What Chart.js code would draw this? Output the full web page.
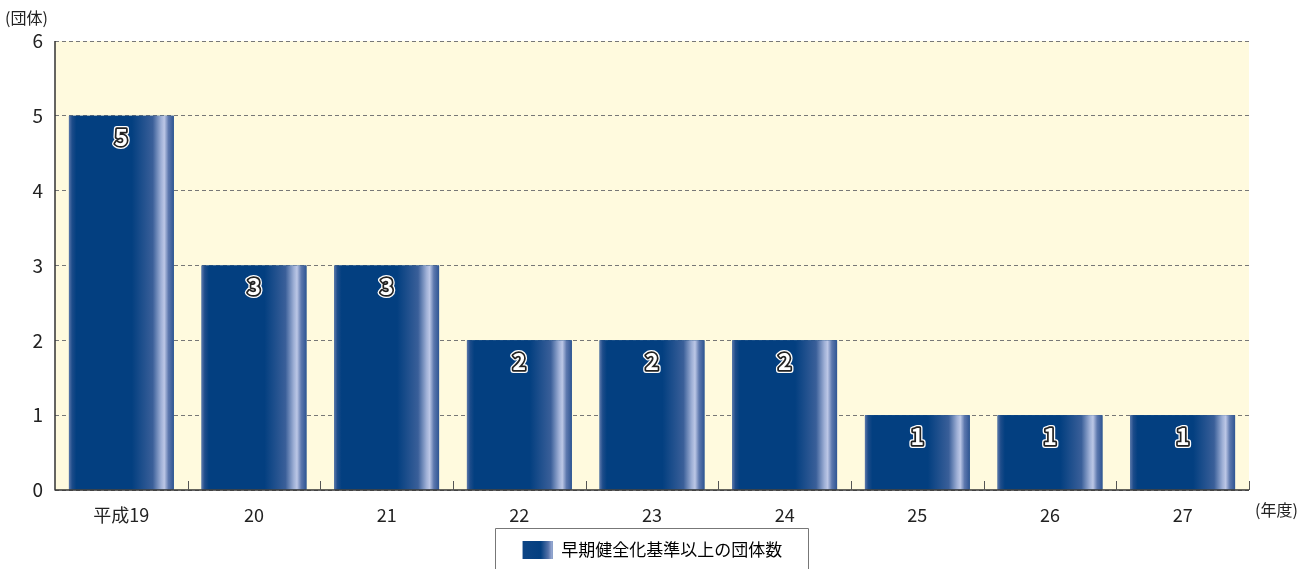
<!DOCTYPE html>
<html>
<head>
<meta charset="utf-8">
<script src="https://cdn.jsdelivr.net/npm/chart.js@4/dist/chart.umd.min.js"></script>
<style>
  body { margin: 0; background: #fff; }
  #wrap { position: relative; width: 1315px; height: 569px; }
</style>
</head>
<body>
<div id="wrap"><canvas id="chart"></canvas></div>
<script>
const years = ['平成19', '20', '21', '22', '23', '24', '25', '26', '27'];
const counts = [5, 3, 3, 2, 2, 2, 1, 1, 1];
const seriesName = '早期健全化基準以上の団体数';
const yTicks = [0, 1, 2, 3, 4, 5, 6];

const FONT = '"Noto Sans CJK JP", "Noto Sans", sans-serif';

function barGradient(ctx, x0, x1) {
    const g = ctx.createLinearGradient(x0, 0, x1, 0);
    g.addColorStop(0, '#5a76aa');
    g.addColorStop(0.03, '#1d4c8a');
    g.addColorStop(0.07, '#033f80');
    g.addColorStop(0.6, '#033f80');
    g.addColorStop(0.8, '#3a5f99');
    g.addColorStop(0.88, '#9fb0d6');
    g.addColorStop(0.91, '#bcc7e6');
    g.addColorStop(0.95, '#5d78ae');
    g.addColorStop(1, '#2f5593');
    return g;
}

function swatchGradient(ctx, x0, x1) {
    const g = ctx.createLinearGradient(x0, 0, x1, 0);
    g.addColorStop(0, '#0d4484');
    g.addColorStop(0.6, '#033f80');
    g.addColorStop(0.85, '#5572a8');
    g.addColorStop(1, '#a8b6dc');
    return g;
}

const decor = {
    id: 'decor',
    afterLayout(chart) {
        // centre the legend under the whole canvas, like the original
        const lg = chart.legend;
        lg.left += 28;
        lg.right += 28;
    },
    beforeDraw(chart) {
        const { ctx, chartArea: a } = chart;
        ctx.save();
        ctx.fillStyle = '#fffade';
        ctx.fillRect(a.left, a.top, a.right - a.left, a.bottom - a.top);
        ctx.restore();
    },
    afterDraw(chart) {
        const { ctx, chartArea: a } = chart;
        const meta = chart.getDatasetMeta(0);
        ctx.save();
        meta.data.forEach((bar, i) => {
            const x0 = bar.x - bar.width / 2, x1 = bar.x + bar.width / 2;
            ctx.fillStyle = barGradient(ctx, x0, x1);
            ctx.fillRect(x0, bar.y, x1 - x0, bar.base - bar.y);
            // value label
            ctx.font = 'bold 23px ' + FONT;
            ctx.textAlign = 'center';
            ctx.textBaseline = 'middle';
            ctx.lineJoin = 'round';
            ctx.strokeStyle = '#fff';
            ctx.lineWidth = 6;
            ctx.strokeText(counts[i], bar.x, bar.y + 21);
            ctx.strokeStyle = '#222';
            ctx.lineWidth = 3.5;
            ctx.strokeText(counts[i], bar.x, bar.y + 21);
            ctx.fillStyle = '#fff';
            ctx.fillText(counts[i], bar.x, bar.y + 21);
        });
        // axes lines
        ctx.strokeStyle = '#333';
        ctx.lineWidth = 1.5;
        ctx.beginPath();
        ctx.moveTo(a.left, a.top);
        ctx.lineTo(a.left, a.bottom);
        ctx.lineTo(a.right, a.bottom);
        ctx.stroke();
        // inward category ticks
        const xs = chart.scales.x;
        const step = (a.right - a.left) / years.length;
        ctx.lineWidth = 1;
        ctx.strokeStyle = '#555';
        for (let i = 1; i <= years.length; i++) {
            const px = Math.round(xs.left + step * i) + 0.5;
            ctx.beginPath();
            ctx.moveTo(px, a.bottom);
            ctx.lineTo(px, a.bottom - 9);
            ctx.stroke();
        }
        // unit labels
        ctx.fillStyle = '#222';
        ctx.font = '16px ' + FONT;
        ctx.textAlign = 'left';
        ctx.textBaseline = 'middle';
        ctx.fillText('(団体)', 5, 18);
        ctx.fillText('(年度)', 1255, 510);
        // legend swatch + box
        const lg = chart.legend;
        const hb = lg.legendHitBoxes[0];
        const sx = hb.left, sy = hb.top + (hb.height - 18) / 2;
        ctx.fillStyle = swatchGradient(ctx, sx, sx + 30);
        ctx.fillRect(sx, sy, 30, 18);
        ctx.strokeStyle = '#777';
        ctx.lineWidth = 1;
        ctx.strokeRect(495.5, lg.top - 3.5, 313, 60);
        ctx.restore();
    }
};

new Chart(document.getElementById('chart'), {
    type: 'bar',
    data: {
        labels: years,
        datasets: [{
            label: seriesName,
            data: counts,
            backgroundColor: '#033f80',
            barPercentage: 0.79,
            categoryPercentage: 1
        }]
    },
    options: {
        responsive: true,
        maintainAspectRatio: false,
        animation: false,
        layout: { padding: { top: 41, right: 66, bottom: 0, left: 0 } },
        plugins: {
            tooltip: { enabled: false },
            legend: {
                position: 'bottom',
                labels: {
                    font: { family: FONT, size: 17 },
                    color: '#222',
                    boxWidth: 30,
                    boxHeight: 18,
                    padding: 9,
                    generateLabels(chart) {
                        return [{
                            text: seriesName,
                            fillStyle: '#033f80',
                            strokeStyle: 'rgba(0,0,0,0)',
                            lineWidth: 0,
                            datasetIndex: 0
                        }];
                    }
                }
            }
        },
        scales: {
            x: {
                grid: { display: false },
                border: { display: false },
                ticks: { font: { family: FONT, size: 18 }, color: '#222', padding: 6 },
                afterFit(scale) { scale.height = 42; }
            },
            y: {
                min: 0,
                max: 6,
                afterBuildTicks(scale) { scale.ticks = yTicks.map(v => ({ value: v })); },
                grid: { color: '#777', lineWidth: 1, drawTicks: false },
                border: { display: false, dash: [4, 3] },
                ticks: { font: { family: FONT, size: 19 }, color: '#222', padding: 12 },
                afterFit(scale) { scale.width = 55; }
            }
        }
    },
    plugins: [decor]
});
</script>
</body>
</html>
